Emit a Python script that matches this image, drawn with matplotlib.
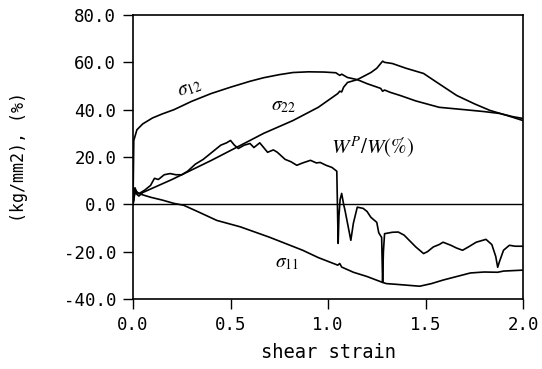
import matplotlib
matplotlib.use("Agg")
import matplotlib.pyplot as plt
from matplotlib.ticker import FormatStrFormatter

plt.rcParams['axes.unicode_minus'] = False
plt.rcParams['mathtext.fontset'] = 'stix'

# --- data ---
s12_x = [0, 0.004, 0.02, 0.05, 0.1, 0.15, 0.21, 0.3, 0.4, 0.5, 0.6, 0.67, 0.75, 0.82, 0.9, 0.98, 1.04, 1.06,
         1.07, 1.10, 1.15, 1.2, 1.27, 1.28, 1.29, 1.32, 1.37, 1.45, 1.57, 1.7, 1.8, 1.88, 1.95, 2.0]
s12_y = [0, 27, 31.5, 34, 36.5, 38.2, 40, 43.5, 46.8, 49.5, 52, 53.5, 54.8, 55.7, 56, 55.9, 55.6, 54.5,
         55, 53.6, 52.7, 51, 49, 47.8, 48.3, 47.3, 46, 43.7, 41, 40, 39.2, 38.4, 37, 36.3]

s22_x = [0, 0.01, 0.03, 0.05, 0.2, 0.4, 0.6, 0.67, 0.82, 0.95, 1.05, 1.06, 1.07, 1.08, 1.10, 1.15, 1.22,
         1.25, 1.28, 1.29, 1.33, 1.40, 1.49, 1.55, 1.66, 1.75, 1.83, 1.92, 2.0]
s22_y = [0, 5, 3.5, 5, 10.5, 18.5, 27, 30, 35.4, 41, 46.8, 47.8, 47.5, 49.5, 51.5, 52.7, 55.7,
         57.5, 60.5, 60.0, 59.5, 57.5, 55.3, 52, 46, 42.5, 39.7, 37.5, 35.4]

s11_x = [0, 0.01, 0.02, 0.05, 0.09, 0.15, 0.21, 0.26, 0.33, 0.43, 0.55, 0.70, 0.87, 0.95, 1.05, 1.06, 1.07,
         1.13, 1.20, 1.28, 1.30, 1.35, 1.47, 1.53, 1.59, 1.66, 1.73, 1.80, 1.87, 1.9, 2.0]
s11_y = [0, 7, 5, 4, 3, 1.8, 0.4, -0.4, -3, -6.8, -9.5, -13.9, -19.4, -22.5, -25.7, -25, -26.5,
         -28.7, -30.5, -33, -33.5, -33.8, -34.6, -33.5, -32, -30.5, -29, -28.6, -28.7, -28.2, -27.8]

wp_x = [0.0, 0.01, 0.03, 0.06, 0.09, 0.11, 0.13, 0.16, 0.19, 0.22, 0.25, 0.28, 0.32, 0.36, 0.39, 0.42,
        0.45, 0.48, 0.50, 0.52, 0.54, 0.57, 0.60, 0.62, 0.65, 0.69, 0.72, 0.74, 0.78, 0.81, 0.84, 0.87,
        0.91, 0.94, 0.96, 0.99, 1.02, 1.045, 1.052, 1.056, 1.062, 1.07, 1.08, 1.087, 1.10, 1.117, 1.13,
        1.15, 1.18, 1.20, 1.22, 1.25, 1.26, 1.275, 1.28, 1.284, 1.29, 1.33, 1.36, 1.39, 1.42, 1.45, 1.49,
        1.51, 1.54, 1.57, 1.59, 1.63, 1.66, 1.69, 1.72, 1.76, 1.81, 1.84, 1.86, 1.87, 1.88, 1.90, 1.93,
        1.96, 2.0]
wp_y = [0, 6, 4.5, 6, 8, 11, 10.5, 12.5, 13, 12.5, 12.5, 14, 17, 19, 21, 23,
        25, 26, 27, 25, 23.6, 25, 25.7, 24, 26, 22, 23, 22, 19, 18, 16.5, 17.5,
        18.6, 17.5, 17.7, 16.5, 15.6, 14, -16.5, -5, 2, 4.6, 0, -2.5, -8, -15.2, -8,
        -1.2, -1.7, -3, -5.5, -7.6, -12, -14, -33, -20, -12.4, -11.8, -11.7, -13, -15.5, -18, -20.8,
        -20, -18, -17, -16, -17.3, -18.5, -19.4, -18, -16, -14.8, -17, -22, -26.6, -24, -19.4, -17.3,
        -17.7, -17.7]

x_ticks = [0.0, 0.5, 1.0, 1.5, 2.0]
y_ticks = [-40, -20, 0, 20, 40, 60, 80]

fig = plt.figure(figsize=(5.42, 3.69), dpi=100)
ax = fig.add_axes([0.2454, 0.1897, 0.7196, 0.7696])

lw = 1.2
for xs, ys in [(s12_x, s12_y), (s22_x, s22_y), (s11_x, s11_y), (wp_x, wp_y)]:
    ax.plot(xs, ys, color='black', lw=lw, solid_joinstyle='round')
ax.axhline(0, color='black', lw=1.0)

ax.set_xlim(0, 2.0)
ax.set_ylim(-40, 80)
ax.set_xticks(x_ticks)
ax.set_yticks(y_ticks)
ax.xaxis.set_major_formatter(FormatStrFormatter('%.1f'))
ax.yaxis.set_major_formatter(FormatStrFormatter('%.1f'))
mono = 'DejaVu Sans Mono'
ax.tick_params(direction='out', length=7, width=1.0, labelsize=12.5, pad=5)
for lab in ax.get_xticklabels() + ax.get_yticklabels():
    lab.set_family(mono)
for sp in ax.spines.values():
    sp.set_linewidth(1.2)

ax.set_xlabel('shear strain', family=mono, fontsize=13.5, labelpad=7)
ax.set_ylabel('(kg/mm2), (%)', family=mono, fontsize=12, labelpad=26)

ax.text(0.29, 49.4, r'$\sigma_{12}$', fontsize=14, rotation=20, ha='center', va='center')
ax.text(0.77, 41.8, r'$\sigma_{22}$', fontsize=14, ha='center', va='center')
ax.text(0.79, -24.5, r'$\sigma_{11}$', fontsize=14, ha='center', va='center')
ax.text(1.23, 24.0, r'$W^{P}/W(\%)$', fontsize=15, ha='center', va='center')

fig.savefig('out.png', dpi=100)
